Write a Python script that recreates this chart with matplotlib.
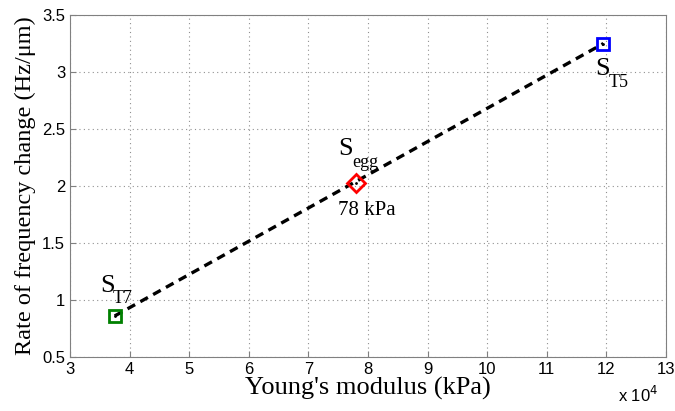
import matplotlib

matplotlib.use("Agg")

import matplotlib.pyplot as plt  # noqa: E402

# sample stiffness vs. rate of frequency change
names = ["T7", "egg", "T5"]
modulus = [3.75, 7.8, 11.95]          # x 10^4
rate = [0.86, 2.03, 3.25]             # Hz/um
colors = ["#008000", "#ff0000", "#0000ff"]
markers = ["s", "D", "s"]

SERIF = "Liberation Serif"

fig = plt.figure(figsize=(6.75, 4.11), dpi=100)
ax = fig.add_axes([0.1037, 0.1314, 0.883, 0.832])

ax.plot([modulus[0], modulus[2]], [rate[0], rate[2]], color="black",
        linestyle=(0, (2.6, 1.8)), linewidth=2.4, zorder=2)
for x, y, c, m in zip(modulus, rate, colors, markers):
    ax.plot(x, y, marker=m, markersize=9 if m == "D" else 8, markerfacecolor="none",
            markeredgecolor=c, markeredgewidth=2, linestyle="none", zorder=3)
    ax.plot(x, y, marker=".", markersize=2, color="black", zorder=4)


def sample_label(x, y, sub, dx, dy):
    # big "S" with a separate subscript, like the original MATLAB labels
    ax.text(x, y, "S", family=SERIF, fontsize=19, ha="left", va="baseline")
    ax.text(x + dx, y + dy, sub, family=SERIF, fontsize=13, ha="left", va="baseline")


sample_label(3.50, 1.07, names[0], 0.22, -0.096)
sample_label(7.50, 2.27, names[1], 0.23, -0.105)
sample_label(11.81, 2.974, names[2], 0.23, -0.106)
ax.text(7.50, 1.746, "78 kPa", family=SERIF, ha="left", va="baseline", fontsize=15)

ax.set_xlim(3, 13)
ax.set_ylim(0.5, 3.5)
ax.set_xticks(range(3, 14))
ax.set_yticks([0.5, 1, 1.5, 2, 2.5, 3, 3.5])
ax.set_yticklabels(["0.5", "1", "1.5", "2", "2.5", "3", "3.5"])
ax.tick_params(direction="in", labelsize=12, length=4, color="#808080")
for lbl in ax.get_xticklabels() + ax.get_yticklabels():
    lbl.set_family("Liberation Sans")
for sp in ax.spines.values():
    sp.set_color("#808080")
ax.grid(True, linestyle=(0, (1, 3)), color="#909090", linewidth=0.8)

ax.set_xlabel("Young's modulus (kPa)", family=SERIF, fontsize=19, labelpad=0)
ax.set_ylabel("Rate of frequency change (Hz/\u03bcm)", family=SERIF,
              fontsize=17.5, labelpad=4)
fig.text(0.975, 0.015, r"x 10$^{4}$", ha="right", va="bottom", fontsize=12,
         family="Liberation Sans")

fig.savefig("out.png", dpi=100)
plt.close(fig)
